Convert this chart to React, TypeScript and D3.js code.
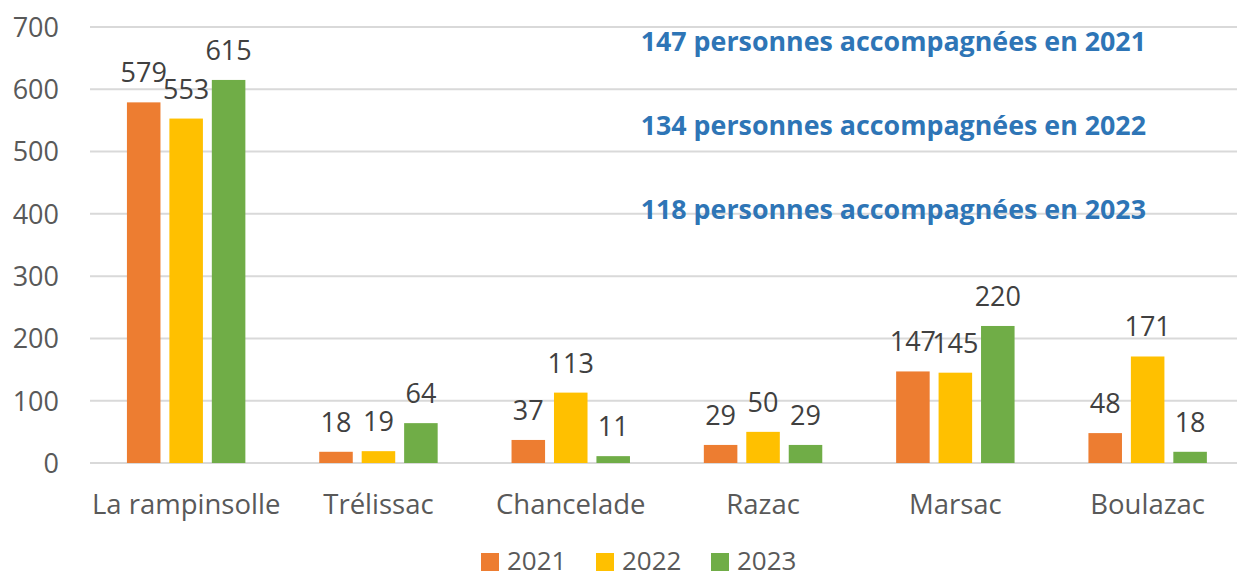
import React from "react";
import { scaleBand, scaleLinear, scaleOrdinal } from "d3";

const categories = ["La rampinsolle", "Trélissac", "Chancelade", "Razac", "Marsac", "Boulazac"];
const years = ["2021", "2022", "2023"];
const values2021 = [579, 18, 37, 29, 147, 48];
const values2022 = [553, 19, 113, 50, 145, 171];
const values2023 = [615, 64, 11, 29, 220, 18];
const yTicks = [0, 100, 200, 300, 400, 500, 600, 700];
const notes = [
    "147 personnes accompagnées en 2021",
    "134 personnes accompagnées en 2022",
    "118 personnes accompagnées en 2023",
];
const noteLevels = [700, 565, 430];

const width = 1237;
const height = 577;
const margin = { left: 90, top: 27, bottom: 114 };
const font = "'Open Sans', sans-serif";
const textColor = "#595959";

const App = () => {
    const series = [values2021, values2022, values2023];

    const xScale = scaleBand()
        .domain(categories)
        .range([margin.left, margin.left + 6 * 192.3]);
    const xInner = scaleBand()
        .domain(years)
        .range([0, xScale.bandwidth()])
        .paddingInner(0.21)
        .paddingOuter(0.87);
    const yScale = scaleLinear()
        .domain([0, 700])
        .range([height - margin.bottom, margin.top]);
    const color = scaleOrdinal<string, string>()
        .domain(years)
        .range(["#ED7D31", "#FFC000", "#70AD47"]);

    return (
        <svg
            width={width}
            height={height}
            style={{ position: "absolute", left: 0, top: 0, background: "#fff" }}
            fontFamily={font}
        >
            {yTicks.map((t) => (
                <g key={t}>
                    <line
                        x1={margin.left}
                        x2={width}
                        y1={yScale(t)}
                        y2={yScale(t)}
                        stroke="#D9D9D9"
                        strokeWidth={2}
                    />
                    <text
                        x={59}
                        y={yScale(t) + 9.8}
                        textAnchor="end"
                        fontSize={27}
                        fill={textColor}
                    >
                        {t}
                    </text>
                </g>
            ))}

            {notes.map((n, i) => (
                <text
                    key={n}
                    x={1146}
                    y={yScale(noteLevels[i]) + 23.5}
                    textAnchor="end"
                    fontSize={26.8}
                    fontWeight="bold"
                    fill="#2E75B6"
                >
                    {n}
                </text>
            ))}

            {categories.map((c, ci) => (
                <g key={c}>
                    {years.map((yr, si) => {
                        const v = series[si][ci];
                        const x = (xScale(c) ?? 0) + (xInner(yr) ?? 0);
                        return (
                            <g key={yr}>
                                <rect
                                    x={x}
                                    y={yScale(v)}
                                    width={xInner.bandwidth()}
                                    height={yScale(0) - yScale(v)}
                                    fill={color(yr)}
                                />
                                <text
                                    x={x + xInner.bandwidth() / 2}
                                    y={yScale(v) - 20}
                                    textAnchor="middle"
                                    fontSize={27}
                                    fill="#404040"
                                >
                                    {v}
                                </text>
                            </g>
                        );
                    })}
                    <text
                        x={(xScale(c) ?? 0) + xScale.bandwidth() / 2}
                        y={514}
                        textAnchor="middle"
                        fontSize={27.5}
                        fill={textColor}
                    >
                        {c}
                    </text>
                </g>
            ))}

            {years.map((yr, i) => (
                <g key={yr} transform={`translate(${481 + i * 115},553)`}>
                    <rect x={0} y={0} width={18} height={18} fill={color(yr)} />
                    <text x={26} y={17} fontSize={26} fill={textColor}>
                        {yr}
                    </text>
                </g>
            ))}
        </svg>
    );
};

export default App;
